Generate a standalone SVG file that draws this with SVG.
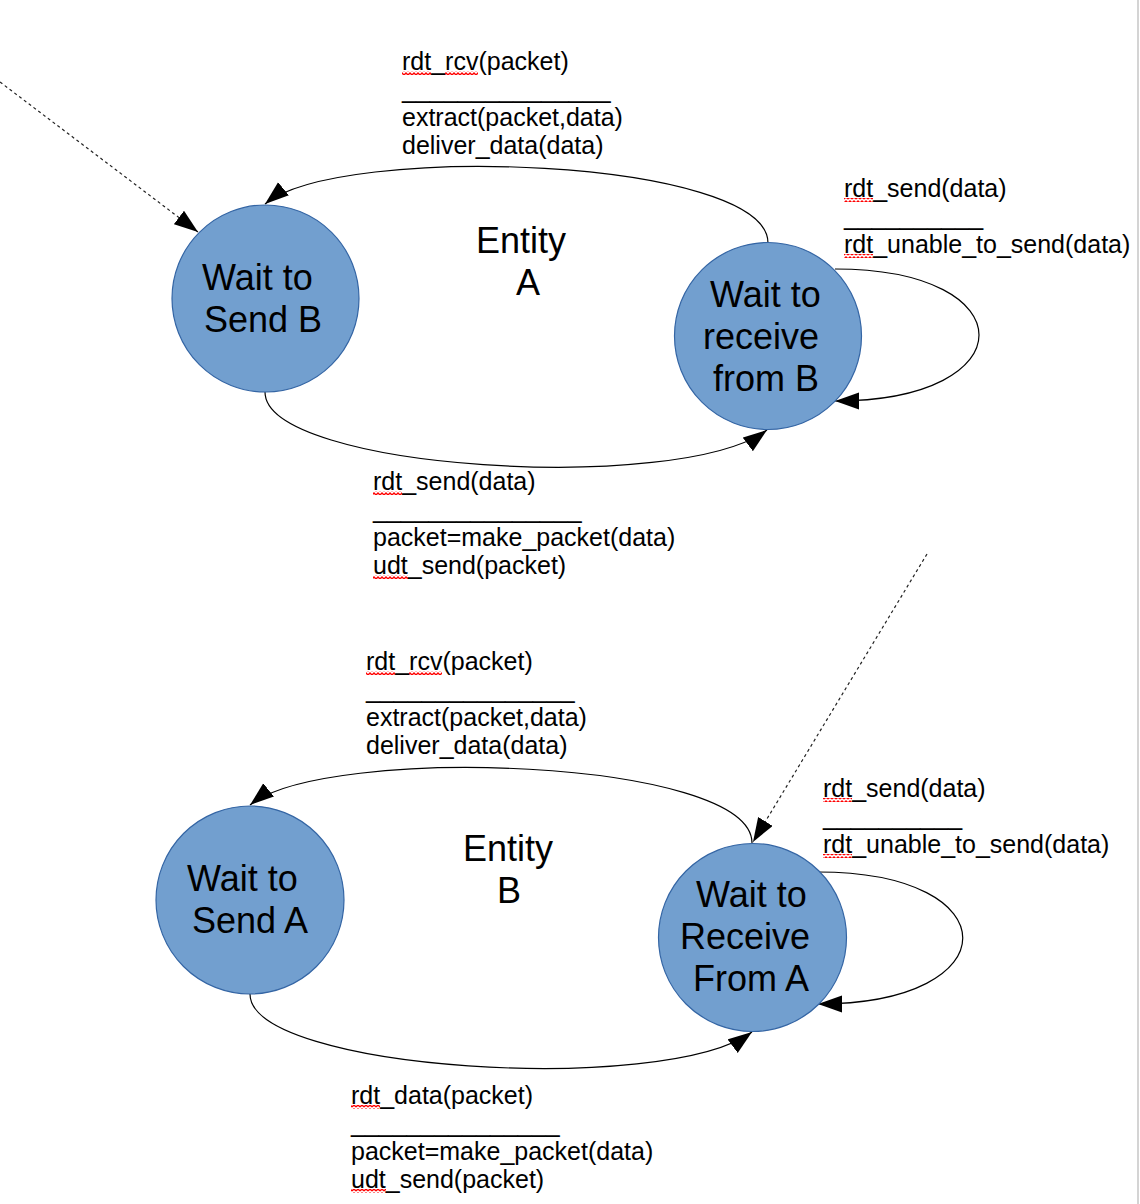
<svg xmlns="http://www.w3.org/2000/svg" width="1140" height="1204" viewBox="0 0 1140 1204">
<style>
.state{fill:#729fcf;stroke:#3465a4;stroke-width:1.2}
.st{font-family:"Liberation Sans",Arial,sans-serif;font-size:36px;fill:#000}
.lbl{font-family:"Liberation Sans",Arial,sans-serif;font-size:25px;fill:#000}
.conn{fill:none;stroke:#000;stroke-width:1.2}
.dot{fill:none;stroke:#222;stroke-width:1.2;stroke-dasharray:3 3}
.sq{fill:url(#squig)}
</style>
<defs>
<marker id="arr" markerUnits="userSpaceOnUse" markerWidth="26" markerHeight="18" refX="24" refY="8.5" orient="auto" viewBox="0 0 26 18">
<path d="M0,0 L24,8.5 L0,17 z" fill="#000"/>
</marker>
<pattern id="squig" patternUnits="userSpaceOnUse" width="4" height="4" x="0" y="0">
<path d="M0,3 L2,1 L4,3" fill="none" stroke="#f00" stroke-width="1.4"/>
</pattern>
</defs>
<rect width="1140" height="1204" fill="#fff"/>
<line x1="1138" y1="0" x2="1138" y2="1204" stroke="#c6c6c6" stroke-width="1.5"/>

<g id="connectors">
<path class="dot" d="M0,82 L198,232" marker-end="url(#arr)"/>
<path class="conn" d="M768,243 C768,158 340,142 265,204" marker-end="url(#arr)"/>
<path class="conn" d="M265,392 C265,470 680,495 767,430" marker-end="url(#arr)"/>
<path class="conn" d="M835,269 C1027,269 1027,401 835,401" marker-end="url(#arr)"/>
<path class="dot" d="M927,554 L753,842" marker-end="url(#arr)"/>
<path class="conn" d="M752,843 C752,758 325,744 250,805" marker-end="url(#arr)"/>
<path class="conn" d="M250,994 C250,1071 665,1096 752,1032" marker-end="url(#arr)"/>
<path class="conn" d="M818,872 C1011,872 1011,1004 818,1004" marker-end="url(#arr)"/>
</g>

<g id="waitSendB">
<circle class="state" cx="265.5" cy="298.5" r="93.5"/>
<text class="st" x="202" y="290">Wait to</text>
<text class="st" x="204" y="332">Send B</text>
</g>
<g id="waitReceiveFromB">
<circle class="state" cx="768" cy="336" r="93.5"/>
<text class="st" x="710" y="307">Wait to</text>
<text class="st" x="703" y="349">receive</text>
<text class="st" x="713" y="391">from B</text>
</g>
<g id="entityA">
<text class="st" x="476" y="253">Entity</text>
<text class="st" x="516" y="295">A</text>
</g>

<g id="waitSendA">
<circle class="state" cx="250" cy="900" r="94"/>
<text class="st" x="187" y="891">Wait to</text>
<text class="st" x="192" y="933">Send A</text>
</g>
<g id="waitReceiveFromA">
<circle class="state" cx="752.5" cy="937.5" r="94"/>
<text class="st" x="696" y="907">Wait to</text>
<text class="st" x="680" y="949">Receive</text>
<text class="st" x="693" y="991">From A</text>
</g>
<g id="entityB">
<text class="st" x="463" y="861">Entity</text>
<text class="st" x="497" y="903">B</text>
</g>

<g id="labelsA">
<text class="lbl" x="402" y="70">rdt_rcv(packet)</text>
<text class="lbl" x="402" y="98">_______________</text>
<text class="lbl" x="402" y="126">extract(packet,data)</text>
<text class="lbl" x="402" y="154">deliver_data(data)</text>
<rect class="sq" x="402" y="71" width="29" height="4"/>
<rect class="sq" x="445" y="71" width="33" height="4"/>

<text class="lbl" x="844" y="197">rdt_send(data)</text>
<text class="lbl" x="844" y="225">__________</text>
<text class="lbl" x="844" y="253">rdt_unable_to_send(data)</text>
<rect class="sq" x="844" y="198" width="29" height="4"/>
<rect class="sq" x="844" y="254" width="29" height="4"/>

<text class="lbl" x="373" y="490">rdt_send(data)</text>
<text class="lbl" x="373" y="518">_______________</text>
<text class="lbl" x="373" y="546">packet=make_packet(data)</text>
<text class="lbl" x="373" y="574">udt_send(packet)</text>
<rect class="sq" x="373" y="491" width="29" height="4"/>
<rect class="sq" x="373" y="575" width="35" height="4"/>
</g>

<g id="labelsB">
<text class="lbl" x="366" y="670">rdt_rcv(packet)</text>
<text class="lbl" x="366" y="698">_______________</text>
<text class="lbl" x="366" y="726">extract(packet,data)</text>
<text class="lbl" x="366" y="754">deliver_data(data)</text>
<rect class="sq" x="366" y="671" width="29" height="4"/>
<rect class="sq" x="409" y="671" width="33" height="4"/>

<text class="lbl" x="823" y="797">rdt_send(data)</text>
<text class="lbl" x="823" y="825">__________</text>
<text class="lbl" x="823" y="853">rdt_unable_to_send(data)</text>
<rect class="sq" x="823" y="798" width="29" height="4"/>
<rect class="sq" x="823" y="854" width="29" height="4"/>

<text class="lbl" x="351" y="1104">rdt_data(packet)</text>
<text class="lbl" x="351" y="1132">_______________</text>
<text class="lbl" x="351" y="1160">packet=make_packet(data)</text>
<text class="lbl" x="351" y="1188">udt_send(packet)</text>
<rect class="sq" x="351" y="1105" width="29" height="4"/>
<rect class="sq" x="351" y="1189" width="35" height="4"/>
</g>
</svg>
